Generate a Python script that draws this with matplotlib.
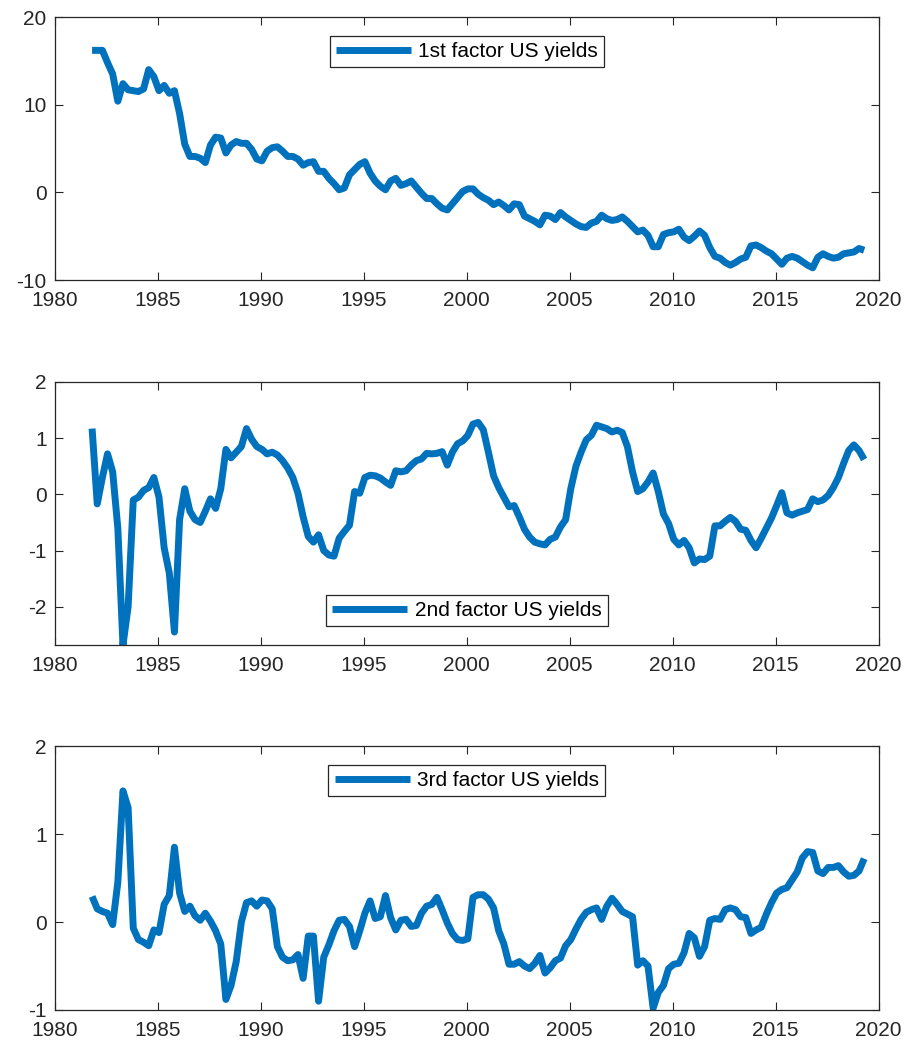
import numpy as np
import matplotlib.pyplot as plt

# quarterly observations, 1981Q4 .. 2019Q2
n_obs = 151
dates = 1981.8 + 0.25 * np.arange(n_obs)

factor1 = [
    16.2, 16.2, 16.2, 14.8, 13.5, 10.4, 12.4, 11.7, 11.6, 11.5,
    11.8, 14.0, 13.2, 11.6, 12.2, 11.3, 11.6, 9.0, 5.5, 4.1,
    4.1, 3.9, 3.4, 5.4, 6.3, 6.2, 4.5, 5.4, 5.8, 5.6,
    5.6, 4.9, 3.8, 3.6, 4.7, 5.1, 5.2, 4.7, 4.1, 4.1,
    3.8, 3.1, 3.4, 3.5, 2.4, 2.4, 1.6, 1.0, 0.3, 0.5,
    2.0, 2.6, 3.2, 3.5, 2.2, 1.3, 0.7, 0.3, 1.3, 1.6,
    0.8, 1.0, 1.3, 0.6, -0.1, -0.7, -0.7, -1.3, -1.8, -2.0,
    -1.3, -0.6, 0.1, 0.4, 0.4, -0.2, -0.6, -0.9, -1.4, -1.1,
    -1.5, -2.0, -1.3, -1.4, -2.7, -3.0, -3.3, -3.7, -2.6, -2.7,
    -3.1, -2.3, -2.8, -3.2, -3.6, -3.9, -4.0, -3.5, -3.3, -2.6,
    -3.0, -3.2, -3.1, -2.8, -3.3, -3.9, -4.5, -4.3, -4.9, -6.2,
    -6.2, -4.8, -4.6, -4.5, -4.2, -5.1, -5.5, -5.0, -4.4, -4.9,
    -6.3, -7.3, -7.5, -8.0, -8.3, -8.0, -7.6, -7.4, -6.1, -6.0,
    -6.3, -6.7, -7.0, -7.6, -8.2, -7.5, -7.3, -7.5, -7.9, -8.3,
    -8.6, -7.4, -7.0, -7.3, -7.5, -7.4, -7.0, -6.9, -6.8, -6.4,
    -6.6,
]

factor2 = [
    1.17, -0.17, 0.3, 0.72, 0.4, -0.6, -2.68, -2.0, -0.1, -0.05,
    0.07, 0.12, 0.3, -0.05, -0.95, -1.4, -2.45, -0.45, 0.1, -0.3,
    -0.45, -0.5, -0.3, -0.08, -0.25, 0.1, 0.8, 0.65, 0.75, 0.85,
    1.17, 0.98, 0.85, 0.8, 0.72, 0.75, 0.7, 0.6, 0.47, 0.3,
    0.02, -0.4, -0.75, -0.85, -0.72, -1.0, -1.08, -1.1, -0.78, -0.66,
    -0.55, 0.05, 0.02, 0.3, 0.34, 0.33, 0.29, 0.22, 0.16, 0.42,
    0.4, 0.42, 0.52, 0.6, 0.63, 0.73, 0.72, 0.73, 0.76, 0.52,
    0.75, 0.9, 0.95, 1.05, 1.25, 1.28, 1.15, 0.75, 0.33, 0.12,
    -0.05, -0.22, -0.2, -0.4, -0.62, -0.76, -0.85, -0.88, -0.9, -0.8,
    -0.76, -0.58, -0.45, 0.1, 0.5, 0.75, 0.97, 1.05, 1.23, 1.2,
    1.17, 1.11, 1.14, 1.1, 0.85, 0.4, 0.05, 0.1, 0.22, 0.38,
    0.05, -0.35, -0.52, -0.8, -0.9, -0.82, -0.95, -1.22, -1.15, -1.16,
    -1.1, -0.56, -0.56, -0.48, -0.41, -0.48, -0.62, -0.64, -0.82, -0.95,
    -0.78, -0.6, -0.42, -0.2, 0.03, -0.33, -0.37, -0.33, -0.3, -0.27,
    -0.08, -0.13, -0.1, -0.02, 0.12, 0.3, 0.55, 0.78, 0.88, 0.78,
    0.62,
]

factor3 = [
    0.29, 0.15, 0.12, 0.1, -0.03, 0.45, 1.49, 1.3, -0.07, -0.2,
    -0.23, -0.27, -0.09, -0.12, 0.2, 0.3, 0.85, 0.33, 0.12, 0.18,
    0.07, 0.02, 0.1, 0.01, -0.1, -0.25, -0.88, -0.72, -0.45, 0.0,
    0.22, 0.24, 0.18, 0.25, 0.24, 0.15, -0.28, -0.4, -0.44, -0.43,
    -0.37, -0.64, -0.16, -0.16, -0.9, -0.4, -0.26, -0.1, 0.02, 0.03,
    -0.05, -0.28, -0.1, 0.1, 0.24, 0.04, 0.06, 0.3, 0.05, -0.09,
    0.02, 0.03, -0.05, -0.04, 0.1, 0.18, 0.2, 0.28, 0.14, -0.01,
    -0.13, -0.2, -0.21, -0.19, 0.28, 0.31, 0.31, 0.26, 0.16, -0.1,
    -0.25, -0.48, -0.48, -0.45, -0.5, -0.53, -0.47, -0.38, -0.58, -0.52,
    -0.44, -0.41, -0.27, -0.2, -0.08, 0.03, 0.11, 0.14, 0.16, 0.03,
    0.18, 0.27, 0.2, 0.12, 0.09, 0.06, -0.49, -0.44, -0.5, -0.98,
    -0.8, -0.72, -0.53, -0.48, -0.47, -0.35, -0.13, -0.18, -0.39, -0.28,
    0.02, 0.04, 0.03, 0.14, 0.16, 0.14, 0.06, 0.05, -0.13, -0.09,
    -0.06, 0.09, 0.22, 0.33, 0.37, 0.39, 0.48, 0.57, 0.73, 0.8,
    0.79, 0.58, 0.55, 0.62, 0.62, 0.64, 0.57, 0.52, 0.53, 0.58,
    0.72,
]

labels = ['1st factor US yields', '2nd factor US yields', '3rd factor US yields']
y_limits = [(-10, 20), (-2.68, 2), (-1, 2)]
y_ticks = [[-10, 0, 10, 20], [-2, -1, 0, 1, 2], [-1, 0, 1, 2]]
legend_locs = ['upper center', 'lower center', 'upper center']
x_ticks = [1980, 1985, 1990, 1995, 2000, 2005, 2010, 2015, 2020]

plt.rcParams['font.family'] = ['Liberation Sans', 'DejaVu Sans']
plt.rcParams['axes.unicode_minus'] = False
line_color = '#0072BD'
axis_color = '#262626'

fig = plt.figure(figsize=(9.08, 10.45), dpi=100)
# axes rectangles in figure fractions (left, bottom, width, height)
boxes = [
    (0.0606, 0.732, 0.907, 0.2517),
    (0.0606, 0.3828, 0.907, 0.2517),
    (0.0606, 0.0335, 0.907, 0.2526),
]

series = [factor1, factor2, factor3]
for k in range(3):
    ax = fig.add_axes(boxes[k])
    ax.plot(dates, series[k], color=line_color, linewidth=5.0,
            solid_joinstyle='round', solid_capstyle='butt', label=labels[k])
    ax.set_xlim(1980, 2020)
    ax.set_ylim(*y_limits[k])
    ax.set_xticks(x_ticks)
    ax.set_yticks(y_ticks[k])
    ax.tick_params(direction='in', length=6, width=0.8, top=True, right=True,
                   labelsize=15, colors=axis_color)
    ax.tick_params(axis='x', pad=8)
    ax.tick_params(axis='y', pad=6)
    for sp in ax.spines.values():
        sp.set_color(axis_color)
        sp.set_linewidth(0.9)
    leg = ax.legend(loc=legend_locs[k], fontsize=15, handlelength=3.6,
                    handletextpad=0.35, borderpad=0.3, borderaxespad=0.9,
                    fancybox=False, framealpha=1)
    leg.get_frame().set_edgecolor(axis_color)
    leg.get_frame().set_linewidth(0.9)

fig.savefig('out.png', dpi=100)
